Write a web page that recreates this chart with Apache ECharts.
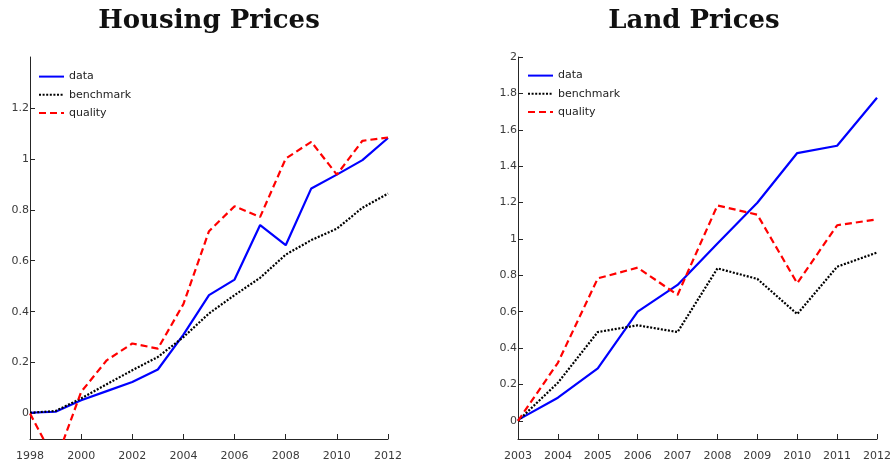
<!DOCTYPE html>
<html>
<head>
<meta charset="utf-8">
<script src="https://cdn.jsdelivr.net/npm/echarts@6/dist/echarts.min.js"></script>
<style>
html,body{margin:0;padding:0;background:#fff;}
#c{width:896px;height:466px;}
</style>
</head>
<body>
<div id="c"></div>
<script>
// Housing Prices (1998-2012)
var housingYears = [1998,1999,2000,2001,2002,2003,2004,2005,2006,2007,2008,2009,2010,2011,2012];
var housingData = [0.003,0.007,0.052,0.088,0.124,0.173,0.31,0.465,0.526,0.74,0.661,0.884,0.938,0.995,1.082];
var housingBenchmark = [0.003,0.01,0.059,0.115,0.17,0.222,0.30,0.393,0.465,0.533,0.624,0.681,0.726,0.808,0.864];
var housingQuality = [0,-0.19,0.085,0.209,0.275,0.255,0.43,0.716,0.814,0.772,1.001,1.067,0.938,1.071,1.084];

// Land Prices (2003-2012)
var landYears = [2003,2004,2005,2006,2007,2008,2009,2010,2011,2012];
var landData = [0.005,0.127,0.288,0.60,0.747,0.975,1.199,1.472,1.512,1.776];
var landBenchmark = [0,0.209,0.488,0.525,0.488,0.838,0.78,0.587,0.847,0.925];
var landQuality = [0,0.319,0.783,0.842,0.692,1.184,1.133,0.756,1.075,1.107];

var housingYTicks = [0,0.2,0.4,0.6,0.8,1,1.2];
var landYTicks = [0,0.2,0.4,0.6,0.8,1,1.2,1.4,1.6,1.8,2];

function pairs(xs, ys){ return xs.map(function(x,i){ return [x, ys[i]]; }); }

var axisColor = '#262626';
var labelFont = {fontFamily:'DejaVu Sans', fontSize:11, color:'#3a3a3a'};

function xAxis(idx, min, max, interval){
  return {
    type:'value', gridIndex:idx, min:min, max:max, interval:interval,
    axisLine:{show:true, onZero:false, lineStyle:{color:axisColor, width:1}},
    axisTick:{show:true, inside:true, length:5, lineStyle:{color:axisColor}},
    axisLabel:Object.assign({margin:12, formatter:function(v){return String(v);}}, labelFont),
    splitLine:{show:false}
  };
}
function yAxis(idx, min, max, ticks){
  return {
    type:'value', gridIndex:idx, min:min, max:max,
    axisLine:{show:true, onZero:false, lineStyle:{color:axisColor, width:1}},
    axisTick:{show:true, inside:true, length:5, customValues:ticks, lineStyle:{color:axisColor}},
    axisLabel:Object.assign({margin:1, customValues:ticks, formatter:function(v){return String(+v.toFixed(1));}}, labelFont),
    splitLine:{show:false}
  };
}
function mkSeries(name, idx, xs, ys, color, type){
  return {
    name:name, type:'line', xAxisIndex:idx, yAxisIndex:idx,
    data:pairs(xs, ys), symbol:'none', showSymbol:false, animation:false,
    lineStyle:{color:color, width:2.2, type:type}, itemStyle:{color:color},
    clip:true
  };
}
var dashed = [7,4];
var dotted = [2,1.6];
var legendCommon = {
  orient:'vertical', itemWidth:25, itemHeight:14, itemGap:7, selectedMode:false, padding:0,
  itemStyle:{opacity:0},
  textStyle:{fontFamily:'DejaVu Sans', fontSize:11, color:'#222'},
  data:['data','benchmark','quality']
};

var chart = echarts.init(document.getElementById('c'), null, {renderer:'canvas'});
chart.setOption({
  animation:false,
  backgroundColor:'#fff',
  graphic:[
    {type:'text', x:209, y:8, style:{text:'Housing Prices', font:'bold 26px "DejaVu Serif"', fill:'#111', textAlign:'center'}},
    {type:'text', x:694, y:8, style:{text:'Land Prices', font:'bold 26px "DejaVu Serif"', fill:'#111', textAlign:'center'}}
  ],
  legend:[
    Object.assign({left:38, top:71}, legendCommon),
    Object.assign({left:527, top:70}, legendCommon)
  ],
  grid:[
    {left:30, top:57, width:358, height:382},
    {left:518, top:57, width:359, height:382}
  ],
  xAxis:[ xAxis(0,1998,2012,2), xAxis(1,2003,2012,1) ],
  yAxis:[ yAxis(0,-0.1,1.4,housingYTicks), yAxis(1,-0.1,2,landYTicks) ],
  series:[
    mkSeries('data',0,housingYears,housingData,'#0000ff','solid'),
    mkSeries('benchmark',0,housingYears,housingBenchmark,'#000000',dotted),
    mkSeries('quality',0,housingYears,housingQuality,'#ff0000',dashed),
    mkSeries('data',1,landYears,landData,'#0000ff','solid'),
    mkSeries('benchmark',1,landYears,landBenchmark,'#000000',dotted),
    mkSeries('quality',1,landYears,landQuality,'#ff0000',dashed)
  ]
});
</script>
</body>
</html>
